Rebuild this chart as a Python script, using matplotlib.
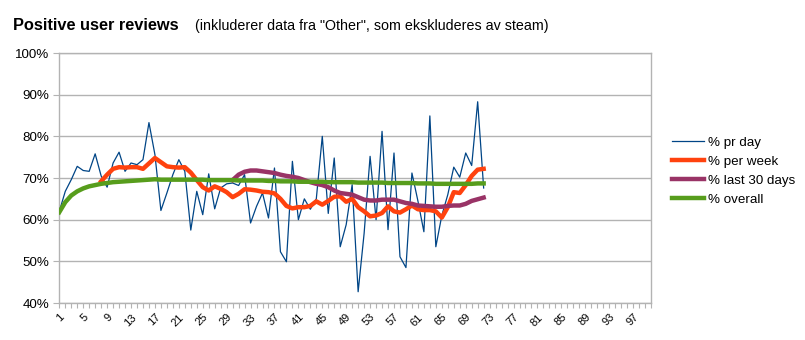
import matplotlib
matplotlib.use("Agg")
import matplotlib.pyplot as plt
from matplotlib.ticker import FuncFormatter

plt.rcParams['font.family'] = ['Liberation Sans', 'DejaVu Sans']

# ---- data ----
days = list(range(1, 73))
pr_day = [62.0, 66.8, 69.6, 72.8, 71.8, 71.6, 75.8, 70.5, 67.8, 73.6,
          76.2, 71.6, 73.6, 73.2, 74.4, 83.3, 75.6, 62.2, 66.4, 70.8,
          74.4, 71.6, 57.5, 66.8, 61.2, 71.0, 62.6, 67.6, 68.6, 68.8,
          68.2, 70.8, 59.2, 63.2, 66.4, 60.4, 72.4, 52.3, 49.9, 74.0,
          60.0, 65.0, 62.5, 65.0, 80.0, 61.5, 74.8, 53.5, 58.8, 68.4,
          42.7, 56.7, 75.2, 60.0, 81.2, 57.6, 76.0, 51.1, 48.5, 71.2,
          64.5, 57.1, 84.9, 53.5, 61.0, 66.0, 72.6, 70.2, 76.0, 73.0,
          88.3, 67.6]

week_days = list(range(8, 73))
per_week = [69.2, 70.8, 72.2, 72.6, 72.5, 72.6, 72.6, 72.2, 73.5, 74.8,
            73.8, 72.8, 72.6, 72.5, 72.6, 71.3, 69.5, 67.8, 67.0, 68.0,
            67.4, 66.6, 65.4, 66.2, 67.3, 67.2, 67.0, 66.7, 66.6, 66.3,
            65.0, 63.3, 62.7, 63.0, 63.0, 63.3, 64.4, 63.6, 64.5, 65.5,
            65.6, 64.3, 65.0, 63.0, 62.0, 60.8, 61.0, 61.6, 63.2, 62.0,
            61.7, 62.5, 63.4, 62.5, 62.3, 62.3, 62.0, 60.5, 63.0, 66.6,
            66.4, 68.3, 70.5, 72.0, 72.2]

m30_days = list(range(30, 73))
last_30 = [69.5, 70.8, 71.5, 71.8, 71.8, 71.6, 71.4, 71.2, 70.8, 70.5,
           70.3, 70.0, 69.5, 69.0, 68.6, 68.3, 67.8, 67.0, 66.4, 66.2,
           66.0, 65.4, 64.8, 64.6, 64.6, 64.8, 64.8, 64.8, 64.4, 64.0,
           63.8, 63.4, 63.3, 63.2, 63.1, 63.1, 63.3, 63.4, 63.4, 63.8,
           64.5, 64.9, 65.3]

overall = [61.8, 64.2, 65.8, 66.8, 67.5, 68.0, 68.3, 68.6, 68.8, 69.0,
           69.1, 69.2, 69.3, 69.4, 69.5, 69.6, 69.7, 69.6, 69.6, 69.6,
           69.6, 69.6, 69.6, 69.6, 69.6, 69.5, 69.5, 69.5, 69.5, 69.5,
           69.4, 69.4, 69.4, 69.4, 69.4, 69.3, 69.3, 69.2, 69.2, 69.2,
           69.1, 69.1, 69.1, 69.1, 69.1, 69.0, 69.0, 69.0, 69.0, 69.0,
           68.9, 68.9, 68.9, 68.9, 68.9, 68.8, 68.8, 68.8, 68.8, 68.8,
           68.7, 68.7, 68.7, 68.6, 68.6, 68.6, 68.6, 68.6, 68.6, 68.6,
           68.7, 68.7]

series_labels = ["% pr day", "% per week", "% last 30 days", "% overall"]
colors = ["#004586", "#ff420e", "#993366", "#579d1c"]
yticks = [40, 50, 60, 70, 80, 90, 100]
n_categories = 100
label_step = 4

# ---- figure ----
W, H = 805, 340
fig = plt.figure(figsize=(W / 100, H / 100), dpi=100)
left, right, top, bottom = 59.3, 651, 53, 303
ax = fig.add_axes([left / W, 1 - bottom / H, (right - left) / W, (bottom - top) / H])

ax.plot(days, pr_day, color=colors[0], lw=0.9, label=series_labels[0], zorder=3)
ax.plot(week_days, per_week, color=colors[1], lw=3.2, label=series_labels[1], zorder=4)
ax.plot(m30_days, last_30, color=colors[2], lw=3.2, label=series_labels[2], zorder=5)
ax.plot(days, overall, color=colors[3], lw=3.2, label=series_labels[3], zorder=6)

ax.set_xlim(1, n_categories)
ax.set_ylim(40, 100)
ax.set_yticks(yticks)
ax.yaxis.set_major_formatter(FuncFormatter(lambda v, p: f"{int(v)}%"))
ax.grid(axis='y', color='#b3b3b3', lw=1)
ax.set_axisbelow(True)

xt = list(range(1, n_categories + 1))
ax.set_xticks(xt)
ax.set_xticklabels([str(i) if (i - 1) % label_step == 0 else '' for i in xt],
                   rotation=45, ha='right', rotation_mode='anchor', fontsize=8)
ax.tick_params(axis='x', length=3.5, width=0.8, color='#b3b3b3', pad=3)
ax.tick_params(axis='y', length=4, width=0.8, color='#b3b3b3', pad=3, labelsize=9.6)
for sp in ax.spines.values():
    sp.set_color('#b3b3b3')
    sp.set_linewidth(1)

fig.text(13 / W, 1 - 30 / H, "Positive user reviews", fontsize=11.8,
         fontweight='bold', va='baseline', ha='left')
fig.text(195 / W, 1 - 30 / H, '(inkluderer data fra "Other", som ekskluderes av steam)',
         fontsize=10.3, va='baseline', ha='left')

fig.legend(loc='upper left', bbox_to_anchor=(671.7 / W, 1 - 136.5 / H),
           frameon=False, fontsize=9.6, handlelength=2.4, handletextpad=0.3,
           labelspacing=0.5, borderpad=0, borderaxespad=0)

fig.savefig("out.png", dpi=100)
